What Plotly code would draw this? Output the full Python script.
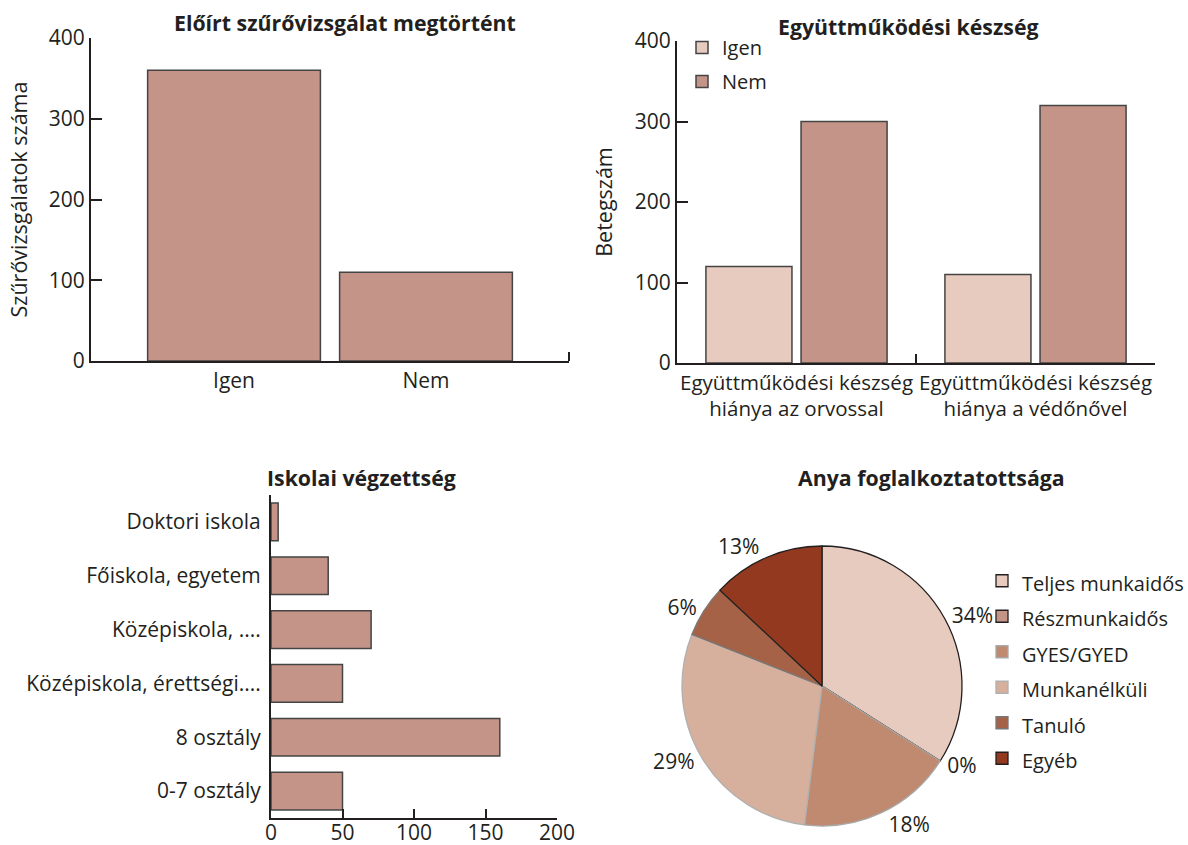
import plotly.graph_objects as go

# ---------- data ----------
screen_cats = ["Igen", "Nem"]
screen_vals = [360, 110]

coop_cats = ["Együttműködési készség<br>hiánya az orvossal",
             "Együttműködési készség<br>hiánya a védőnővel"]
coop_igen = [120, 110]
coop_nem = [300, 320]

edu_cats = ["0-7 osztály", "8 osztály", "Középiskola, érettségi....",
            "Középiskola, ....", "Főiskola, egyetem", "Doktori iskola"]
edu_vals = [50, 160, 50, 70, 40, 5]

job_labels = ["Teljes munkaidős", "Részmunkaidős", "GYES/GYED",
              "Munkanélküli", "Tanuló", "Egyéb"]
job_vals = [34, 0, 18, 29, 6, 13]

# ---------- style ----------
W, H = 1188, 845
FONT = "Open Sans"
INK = "#231f20"
BAR = "#c49488"
LIGHT = "#e8cbbf"
EDGE = "#444444"
job_colors = ["#e8cbbf", "#c49486", "#bf8a70", "#d6b09c", "#a66246", "#93391f"]
job_edges = ["#231f20", "#231f20", "#a8a8a8", "#b0b0b0", "#777777", "#231f20"]
TICK_SIZE = 21
TITLE_SIZE = 21.3
YTITLE_SIZE = 21.5


def px_x(v):
    return v / W


def px_y(v):
    return 1 - v / H


# legend entries keep a 20px text but use a taller row (legend font 25) for spacing
job_legend_text = [f'<span style="font-size:20px">{s}</span>' for s in job_labels]

fig = go.Figure()

# top-left
fig.add_trace(go.Bar(x=screen_cats, y=screen_vals, width=0.9,
                     marker=dict(color=BAR, line=dict(color=EDGE, width=1.5)),
                     showlegend=False, xaxis="x", yaxis="y"))
# top-right
fig.add_trace(go.Bar(x=coop_cats, y=coop_igen, name="Igen", width=0.36, offset=-0.379,
                     marker=dict(color=LIGHT, line=dict(color=EDGE, width=1.5)),
                     xaxis="x2", yaxis="y2", legend="legend", legendgroup="igen"))
fig.add_trace(go.Bar(x=coop_cats, y=coop_nem, name="Nem", width=0.36, offset=0.019,
                     marker=dict(color=BAR, line=dict(color=EDGE, width=1.5)),
                     xaxis="x2", yaxis="y2", legend="legend", legendgroup="nem"))
# bottom-left
fig.add_trace(go.Bar(x=edu_vals, y=edu_cats, orientation="h", width=0.7,
                     marker=dict(color=BAR, line=dict(color=EDGE, width=1.5)),
                     showlegend=False, xaxis="x3", yaxis="y3"))
# pie
fig.add_trace(go.Pie(labels=job_legend_text, values=job_vals, sort=False, direction="clockwise", rotation=0,
                     marker=dict(colors=job_colors, line=dict(color=job_edges, width=1.3)),
                     textposition="outside", texttemplate="%{percent:.0%}",
                     textfont=dict(family=FONT, size=21, color=INK),
                     domain=dict(x=[px_x(682), px_x(962)], y=[px_y(826), px_y(546)]),
                     legend="legend2", showlegend=True))

axis_common = dict(showline=True, linecolor=INK, linewidth=2, showgrid=False, zeroline=False,
                   tickcolor=INK, tickwidth=2)
tickfont = dict(family=FONT, size=TICK_SIZE, color=INK)
ytitle_font = dict(family=FONT, size=YTITLE_SIZE, color=INK)

fig.update_layout(
    width=W, height=H, margin=dict(l=0, r=0, t=0, b=0, autoexpand=False),
    paper_bgcolor="white", plot_bgcolor="white",
    font=dict(family=FONT, color=INK, size=20),
    barmode="overlay",
    xaxis=dict(domain=[px_x(91), px_x(569)], range=[-0.745, 1.745], ticks="", anchor="y",
               tickfont=tickfont, **axis_common),
    yaxis=dict(domain=[px_y(361), px_y(38)], range=[0, 400], dtick=100, ticks="inside", ticklen=11,
               anchor="x", title=dict(text="Szűrővizsgálatok száma", font=ytitle_font, standoff=15),
               tickfont=tickfont, **axis_common),
    xaxis2=dict(domain=[px_x(677), px_x(1155)], range=[-0.5, 1.5], ticks="inside", ticklen=9,
                tickson="boundaries", anchor="y2", tickangle=0,
                tickfont=dict(family=FONT, size=20.5, color=INK), **axis_common),
    yaxis2=dict(domain=[px_y(363), px_y(41)], range=[0, 400], dtick=100, ticks="inside", ticklen=11,
                anchor="x2", title=dict(text="Betegszám", font=ytitle_font, standoff=16),
                tickfont=tickfont, **axis_common),
    xaxis3=dict(domain=[px_x(271), px_x(557)], range=[0, 200], dtick=50, ticks="inside", ticklen=9,
                anchor="y3", ticklabelstandoff=-5, tickfont=tickfont, **axis_common),
    yaxis3=dict(domain=[px_y(818), px_y(495)], range=[-0.5, 5.5], ticks="", anchor="x3",
                ticklabelstandoff=4, tickfont=tickfont, **axis_common),
    legend=dict(x=px_x(682), y=px_y(28), xanchor="left", yanchor="top", bgcolor="rgba(0,0,0,0)",
                font=dict(family=FONT, size=20, color=INK), traceorder="grouped", tracegroupgap=5),
    legend2=dict(x=px_x(982), y=px_y(558), xanchor="left", yanchor="top", bgcolor="rgba(0,0,0,0)",
                 font=dict(family=FONT, size=25, color=INK)),
)

# closing tick at right end of the first x axis
fig.add_shape(type="line", xref="x domain", yref="y domain", x0=1, x1=1, y0=0, y1=0.028,
              line=dict(color=INK, width=2))

titles = [
    ("Előírt szűrővizsgálat megtörtént", 345, 22),
    ("Együttműködési készség", 908, 27),
    ("Iskolai végzettség", 361, 477),
    ("Anya foglalkoztatottsága", 931, 477),
]
for t, x, y in titles:
    fig.add_annotation(text=f"<b>{t}</b>", x=px_x(x), y=px_y(y), xref="paper", yref="paper",
                       showarrow=False, xanchor="center", yanchor="middle",
                       font=dict(family=FONT, size=TITLE_SIZE, color=INK))

fig.write_html("out.html", config={"displayModeBar": False},
               post_script="document.body.style.margin='0px';")
